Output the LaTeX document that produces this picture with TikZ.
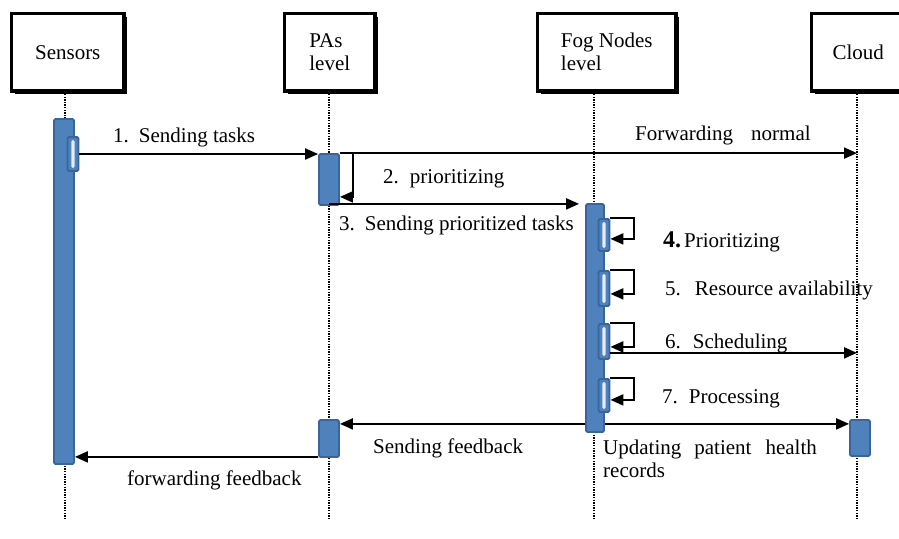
\documentclass[tikz,border=0pt]{standalone}
\usepackage{fontspec}
\setmainfont{Liberation Serif}
\usetikzlibrary{arrows.meta,shadows,calc}
\definecolor{barblue}{HTML}{4F81BD}
\definecolor{baredge}{HTML}{3A659A}
\definecolor{stripe}{HTML}{E4ECF6}
\newcommand\lgap[1]{\hspace*{#1pt}}

\begin{document}
\begin{tikzpicture}[x=1pt,y=-1pt,
  every node/.style={font=\fontsize{21}{23}\selectfont, inner sep=0pt},
  head/.style={draw, line width=3.5pt, fill=white, rectangle, align=left,
    drop shadow={shadow xshift=3pt, shadow yshift=-3pt, opacity=1, fill=black}},
  life/.style={line width=1.6pt, dash pattern=on 1.4pt off 1.2pt},
  bar/.style={draw=baredge, fill=barblue, line width=1.8pt, rounded corners=1.5pt, rectangle},
  subbar/.style={bar, minimum width=11pt,
    path picture={\fill[stripe] ($(path picture bounding box.south west)+(3.8pt,3pt)$)
      rectangle ($(path picture bounding box.north east)+(-3.8pt,-3pt)$);}},
  msg/.style={line width=2.1pt, -{Triangle[length=13pt,width=11pt]}},
  lbl/.style={anchor=base west}
]
\useasboundingbox (0,0) rectangle (899,538);
\clip (0,0) rectangle (899,538);

% lifeline heads
\node[head, minimum width=112.5pt, minimum height=77.5pt] (sensors) at (67.75,52.25) {Sensors};
\node[head, minimum width=90.5pt, minimum height=77.5pt] (pas) at (329.75,52.25) {PAs\\level};
\node[head, minimum width=138.5pt, minimum height=77.5pt] (fog) at (606.75,52.25) {Fog Nodes\\level};
\node[head, minimum width=93.5pt, minimum height=77.5pt] (cloud) at (858.25,52.25) {Cloud};

% lifelines
\coordinate (L1) at (65,94);
\coordinate (L2) at (329,94);
\coordinate (L3) at (594,94);
\coordinate (L4) at (857,94);
\foreach \l in {L1,L2,L3,L4} \draw[life] (\l) -- ++(0,426);

% activation bars
\node[bar, minimum width=20pt, minimum height=345pt] (sb) at (64,291.5) {};
\node[subbar, minimum height=34pt] (s1) at (73,154) {};
\node[bar, minimum width=20pt, minimum height=51pt] (pa1) at (329,179.5) {};
\node[bar, minimum width=20pt, minimum height=37pt] (pa2) at (329,438.5) {};
\node[bar, minimum width=18pt, minimum height=228pt] (fb) at (595,318) {};
\node[subbar, minimum height=32pt] (f1) at (604,235) {};
\node[subbar, minimum height=35pt] (f2) at (604,288.5) {};
\node[subbar, minimum height=35pt] (f3) at (604,341.5) {};
\node[subbar, minimum height=33pt] (f4) at (604,395.5) {};
\node[bar, minimum width=20pt, minimum height=36pt] (cb) at (860,438) {};

% messages
\draw[msg] (s1.east) -- (s1.east -| pa1.west);
\draw[msg] (pa1.north east) -- (pa1.north east -| L4);
\draw[msg] (pa1.north east) -| ([xshift=13pt,yshift=9pt]pa1.south east) -- ([yshift=9pt]pa1.south east);
\coordinate (p3) at ([yshift=2pt]pa1.south);
\draw[msg, shorten >=6pt] (p3) -- (p3 -| fb.west);
\foreach \f in {f1,f2,f3,f4}
  \draw[msg] (\f.north east) -| ([xshift=24pt,yshift=13pt]\f.south east) -- ([yshift=13pt]\f.south east);
\coordinate (p6) at ([yshift=7pt]f3.south east);
\draw[msg] (p6) -- (p6 -| L4);
\coordinate (p7r) at ([yshift=9pt]fb.south east);
\draw[msg] (p7r) -- (p7r -| cb.west);
\coordinate (p7l) at ([yshift=9pt]fb.south west);
\draw[msg] (p7l) -- (p7l -| pa2.east);
\coordinate (p8) at ([yshift=1pt]pa2.south west);
\draw[msg] (p8) -- (p8 -| sb.east);

% message labels
\node[lbl] (t1) at (113,142) {1.\lgap{10}Sending tasks};
\node[lbl] (tf) at (635,140) {Forwarding\lgap{18}normal};
\node[lbl] (t2) at (383,183) {2.\lgap{11}prioritizing};
\node[lbl] (t3) at (339,230) {3.\lgap{10}Sending prioritized tasks};
\node[lbl] (t4) at (663,247) {{\fontsize{24}{24}\selectfont\bfseries 4.}\lgap{3}Prioritizing};
\node[lbl] (t5) at (665,295) {5.\lgap{14}Resource availability};
\node[lbl] (t6) at (665,348) {6.\lgap{12}Scheduling};
\node[lbl] (t7) at (662,403) {7.\lgap{11}Processing};
\node[lbl] (tsf) at (373,453) {Sending feedback};
\node[lbl] (tff) at (127,485) {forwarding feedback};
\node[lbl] (tu1) at (603,454) {Updating\lgap{13}patient\lgap{14}health};
\node[lbl] (tu2) at (603,477) {records};
\end{tikzpicture}
\end{document}
